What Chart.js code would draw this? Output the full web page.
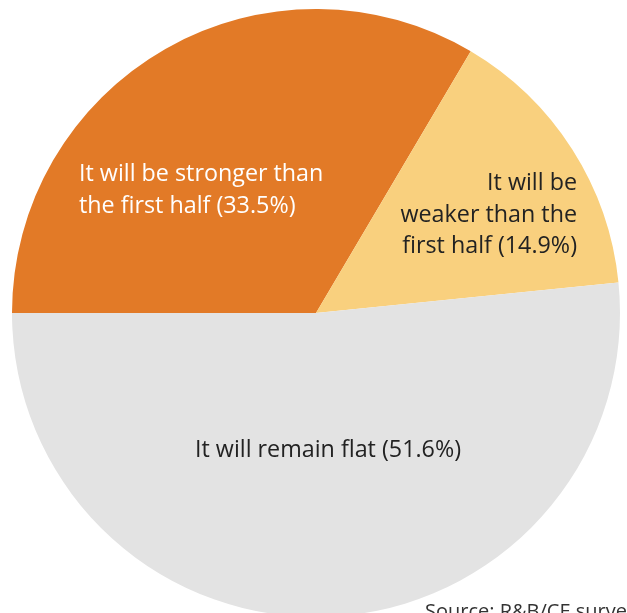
<!DOCTYPE html>
<html>
<head>
<meta charset="utf-8">
<script src="https://cdn.jsdelivr.net/npm/chart.js@4"></script>
<style>
  html, body { margin: 0; padding: 0; background: #fff; overflow: hidden; }
  #wrap { position: relative; width: 627px; height: 613px; overflow: hidden; }
  canvas { display: block; }
</style>
</head>
<body>
<div id="wrap"><canvas id="pie" width="627" height="630"></canvas></div>
<script>
// datos
const categories = [
  ['It will be stronger than', 'the first half (33.5%)'],
  ['It will be', 'weaker than the', 'first half (14.9%)'],
  ['It will remain flat (51.6%)']
];
const shares = [33.5, 14.9, 51.6];
const sliceColors = ['#e27a27', '#f9d07e', '#e3e3e3'];
const sourceNote = 'Source: R&B/CE survey';

// etiquetas dibujadas a mano, relativas al centro del pastel
const labelPlugin = {
  id: 'sliceLabels',
  afterDatasetsDraw(chart) {
    const ctx = chart.ctx;
    const arc = chart.getDatasetMeta(0).data[0];
    const cx = arc.x, cy = arc.y;
    ctx.save();
    ctx.font = '23.3px "Open Sans", sans-serif';
    ctx.textBaseline = 'alphabetic';

    // fuerte
    ctx.fillStyle = '#ffffff';
    ctx.textAlign = 'left';
    categories[0].forEach((t, i) => ctx.fillText(t, cx - 237, cy - 132 + i * 32));

    // debil
    ctx.fillStyle = '#222222';
    ctx.textAlign = 'right';
    categories[1].forEach((t, i) => ctx.fillText(t, cx + 261, cy - 123 + i * 31.5));

    // plano
    ctx.textAlign = 'center';
    ctx.fillText(categories[2][0], cx + 12, cy + 144);

    // fuente
    ctx.font = '20px "Open Sans", sans-serif';
    ctx.fillStyle = '#333333';
    ctx.textAlign = 'left';
    ctx.fillText(sourceNote, 425, 618);
    ctx.restore();
  }
};

const ctx = document.getElementById('pie').getContext('2d');
const pieChart = new Chart(ctx, {
  type: 'pie',
  data: {
    labels: categories.map(c => c.join(' ')),
    datasets: [{
      data: shares,
      backgroundColor: sliceColors,
      borderWidth: 0
    }]
  },
  options: {
    responsive: false,
    animation: false,
    rotation: 270, // empieza a las 9 en punto
    layout: { padding: { left: 12, right: 7, top: 9, bottom: 13 } },
    plugins: {
      legend: { display: false },
      tooltip: { enabled: false }
    }
  },
  plugins: [labelPlugin]
});
</script>
</body>
</html>
